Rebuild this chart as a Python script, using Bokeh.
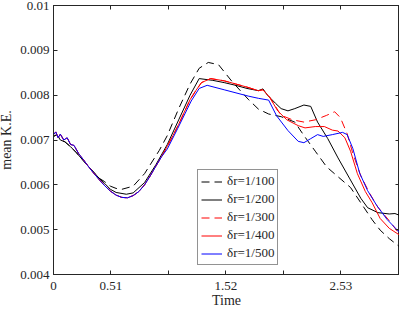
from bokeh.plotting import figure
from bokeh.models import LinearAxis, FixedTicker, Range1d, Legend, LegendItem
from bokeh.embed import file_html
from bokeh.resources import INLINE

# ---- data ----
t_100 = [0, 0.03, 0.06, 0.10, 0.15, 0.20, 0.30, 0.40, 0.45, 0.50, 0.55, 0.60, 0.70, 0.80, 0.93, 1.00, 1.10,
         1.20, 1.28, 1.36, 1.45, 1.57, 1.71, 1.80, 1.89, 2.00, 2.12, 2.20, 2.30, 2.40, 2.50, 2.61, 2.70,
         2.80, 2.87, 2.95, 3.04]
ke_100 = [0.00708, 0.00712, 0.00700, 0.00696, 0.00685, 0.00672, 0.00643, 0.00615, 0.00607, 0.00597,
          0.00592, 0.00590, 0.00597, 0.00625, 0.00677, 0.00710, 0.00770, 0.00825, 0.00860, 0.00873,
          0.00868, 0.00830, 0.00791, 0.00769, 0.00758, 0.00752, 0.00740, 0.00710, 0.00675, 0.00640,
          0.00618, 0.00594, 0.00560, 0.00522, 0.00499, 0.00480, 0.00462]

t_200 = [0, 0.03, 0.06, 0.10, 0.15, 0.20, 0.30, 0.40, 0.45, 0.50, 0.55, 0.64, 0.70, 0.80, 0.90, 1.00, 1.10,
         1.20, 1.28, 1.40, 1.50, 1.60, 1.70, 1.80, 1.84, 1.88, 1.95, 2.00, 2.06, 2.12, 2.20, 2.26, 2.32,
         2.41, 2.50, 2.60, 2.70, 2.76, 2.85, 2.95, 3.00, 3.04]
ke_200 = [0.00708, 0.00712, 0.00700, 0.00696, 0.00685, 0.00672, 0.00643, 0.00615, 0.00603, 0.00590,
          0.00583, 0.00579, 0.00582, 0.00605, 0.00645, 0.00690, 0.00745, 0.00800, 0.00837, 0.00833,
          0.00828, 0.00822, 0.00815, 0.00810, 0.00814, 0.00800, 0.00782, 0.00770, 0.00765, 0.00770,
          0.00778, 0.00775, 0.00740, 0.00703, 0.00660, 0.00615, 0.00570, 0.00549, 0.00538, 0.00535,
          0.00536, 0.00532]

t_300 = [0, 0.02, 0.04, 0.06, 0.09, 0.12, 0.15, 0.18, 0.22, 0.26, 0.30, 0.35, 0.40, 0.45, 0.50, 0.55,
         0.60, 0.65, 0.70, 0.75, 0.80, 0.85, 0.90, 0.95, 1.00, 1.05, 1.10, 1.20, 1.25, 1.30, 1.38, 1.50,
         1.60, 1.70, 1.80, 1.84, 1.90, 2.00, 2.10, 2.20, 2.30, 2.40, 2.47, 2.52, 2.58, 2.63, 2.70, 2.78,
         2.85, 2.95, 3.04]
ke_300 = [0.00712, 0.00718, 0.00705, 0.00713, 0.00700, 0.00705, 0.00690, 0.00688, 0.00670, 0.00657,
          0.00643, 0.00627, 0.00612, 0.00598, 0.00586, 0.00577, 0.00572, 0.00571, 0.00576, 0.00585,
          0.00600, 0.00620, 0.00642, 0.00663, 0.00686, 0.00710, 0.00735, 0.00790, 0.00810, 0.00828,
          0.00837, 0.00832, 0.00825, 0.00818, 0.00810, 0.00812, 0.00795, 0.00755, 0.00745, 0.00740,
          0.00745, 0.00755, 0.00763, 0.00750, 0.00714, 0.00670, 0.00620, 0.00580, 0.00550, 0.00520,
          0.00490]

t_400 = [0, 0.02, 0.04, 0.06, 0.09, 0.12, 0.15, 0.18, 0.22, 0.26, 0.30, 0.35, 0.40, 0.45, 0.50, 0.55,
         0.60, 0.65, 0.70, 0.75, 0.80, 0.85, 0.90, 0.95, 1.00, 1.05, 1.10, 1.20, 1.25, 1.30, 1.38, 1.50,
         1.60, 1.70, 1.80, 1.84, 1.90, 1.97, 2.05, 2.15, 2.21, 2.30, 2.38, 2.45, 2.50, 2.56, 2.61, 2.67,
         2.74, 2.80, 2.87, 2.95, 3.04]
ke_400 = [0.00712, 0.00718, 0.00705, 0.00713, 0.00700, 0.00705, 0.00690, 0.00688, 0.00670, 0.00657,
          0.00643, 0.00627, 0.00612, 0.00598, 0.00586, 0.00577, 0.00572, 0.00571, 0.00576, 0.00585,
          0.00600, 0.00620, 0.00642, 0.00663, 0.00686, 0.00710, 0.00735, 0.00790, 0.00810, 0.00828,
          0.00837, 0.00832, 0.00825, 0.00818, 0.00810, 0.00812, 0.00795, 0.00765, 0.00745, 0.00732,
          0.00727, 0.00730, 0.00730, 0.00722, 0.00720, 0.00705, 0.00675, 0.00625, 0.00585, 0.00560,
          0.00525, 0.00503, 0.00488]

t_500 = [0, 0.02, 0.04, 0.06, 0.09, 0.12, 0.15, 0.18, 0.22, 0.26, 0.30, 0.35, 0.40, 0.45, 0.50, 0.55,
         0.60, 0.65, 0.70, 0.75, 0.80, 0.85, 0.90, 0.95, 1.00, 1.09, 1.21, 1.28, 1.35, 1.50, 1.71, 1.80,
         1.89, 1.96, 2.06, 2.15, 2.20, 2.26, 2.32, 2.37, 2.45, 2.54, 2.58, 2.63, 2.69, 2.76, 2.84, 2.93,
         3.04]
ke_500 = [0.00712, 0.00718, 0.00705, 0.00713, 0.00700, 0.00705, 0.00690, 0.00688, 0.00670, 0.00657,
          0.00643, 0.00627, 0.00612, 0.00598, 0.00586, 0.00577, 0.00572, 0.00571, 0.00576, 0.00585,
          0.00600, 0.00620, 0.00642, 0.00663, 0.00680, 0.00725, 0.00787, 0.00815, 0.00822, 0.00812,
          0.00798, 0.00793, 0.00789, 0.00754, 0.00721, 0.00697, 0.00694, 0.00703, 0.00712, 0.00708,
          0.00712, 0.00717, 0.00712, 0.00681, 0.00626, 0.00587, 0.00554, 0.00523, 0.00494]

labels = ["δr=1/100", "δr=1/200", "δr=1/300", "δr=1/400", "δr=1/500"]
x_ticks = [0, 0.505, 1.01, 1.515, 2.02, 2.525, 3.03]
x_tick_labels = ["0", "0.51", "", "1.52", "", "2.53", ""]
y_ticks = [0.004, 0.005, 0.006, 0.007, 0.008, 0.009, 0.01]
y_tick_labels = ["0.004", "0.005", "0.006", "0.007", "0.008", "0.009", "0.01"]

FONT = "Liberation Serif"
AX = "#262626"

p = figure(width=403, height=316, output_backend="svg", toolbar_location=None,
           x_range=Range1d(0, 3.04), y_range=Range1d(0.004, 0.01),
           min_border_left=0, min_border_right=0, min_border_top=11, min_border_bottom=0)
p.styles = {"margin-left": "-4px", "margin-top": "-6px", "margin-bottom": "-8px"}
p.grid.visible = False
p.outline_line_color = AX
p.background_fill_color = "white"
p.border_fill_color = "white"

specs = [(t_100, ke_100, "black", "8 5"), (t_200, ke_200, "black", "solid"),
         (t_300, ke_300, "red", "8 5"), (t_400, ke_400, "red", "solid"),
         (t_500, ke_500, "blue", "solid")]
items = []
for (tx, ky, c, d), lab in zip(specs, labels):
    r = p.line(tx, ky, line_color=c, line_dash=d, line_width=1)
    items.append(LegendItem(label=lab, renderers=[r]))

def style_axis(ax, ticks, labs, show):
    ax.ticker = FixedTicker(ticks=ticks)
    ax.major_label_overrides = {t: l for t, l in zip(ticks, labs)}
    ax.major_tick_in = 4
    ax.major_tick_out = 0
    ax.minor_tick_line_color = None
    ax.axis_line_color = AX
    ax.major_tick_line_color = AX
    ax.major_label_text_font = FONT
    ax.major_label_text_font_size = "13px"
    ax.major_label_text_color = AX if show else None
    ax.axis_label_text_font = FONT
    ax.axis_label_text_font_size = "14px"
    ax.axis_label_text_font_style = "normal"
    ax.axis_label_text_color = AX

xa = p.xaxis[0]
style_axis(xa, x_ticks, x_tick_labels, True)
xa.axis_label = "Time"
xa.axis_label_standoff = 0
xa.major_label_standoff = 7

ya = p.yaxis[0]
style_axis(ya, y_ticks, y_tick_labels, True)
ya.axis_label = "mean K.E."
ya.axis_label_standoff = 3
ya.major_label_standoff = 4

top = LinearAxis()
style_axis(top, x_ticks, ["" for _ in x_ticks], False)
top.major_label_text_font_size = "0px"
top.major_label_standoff = 0
p.add_layout(top, "above")
right = LinearAxis()
style_axis(right, y_ticks, ["" for _ in y_ticks], False)
right.major_label_text_font_size = "0px"
right.major_label_standoff = 0
p.add_layout(right, "right")

leg = Legend(items=items, location=(144, 9))
leg.label_text_font = FONT
leg.label_text_font_size = "13px"
leg.label_text_color = AX
leg.glyph_width = 21
leg.glyph_height = 13
leg.label_height = 13
leg.spacing = 2
leg.padding = 3
leg.margin = 0
leg.label_standoff = 5
leg.border_line_color = AX
leg.border_line_width = 1
p.add_layout(leg, "center")

open("out.html", "w").write(file_html(p, INLINE))
